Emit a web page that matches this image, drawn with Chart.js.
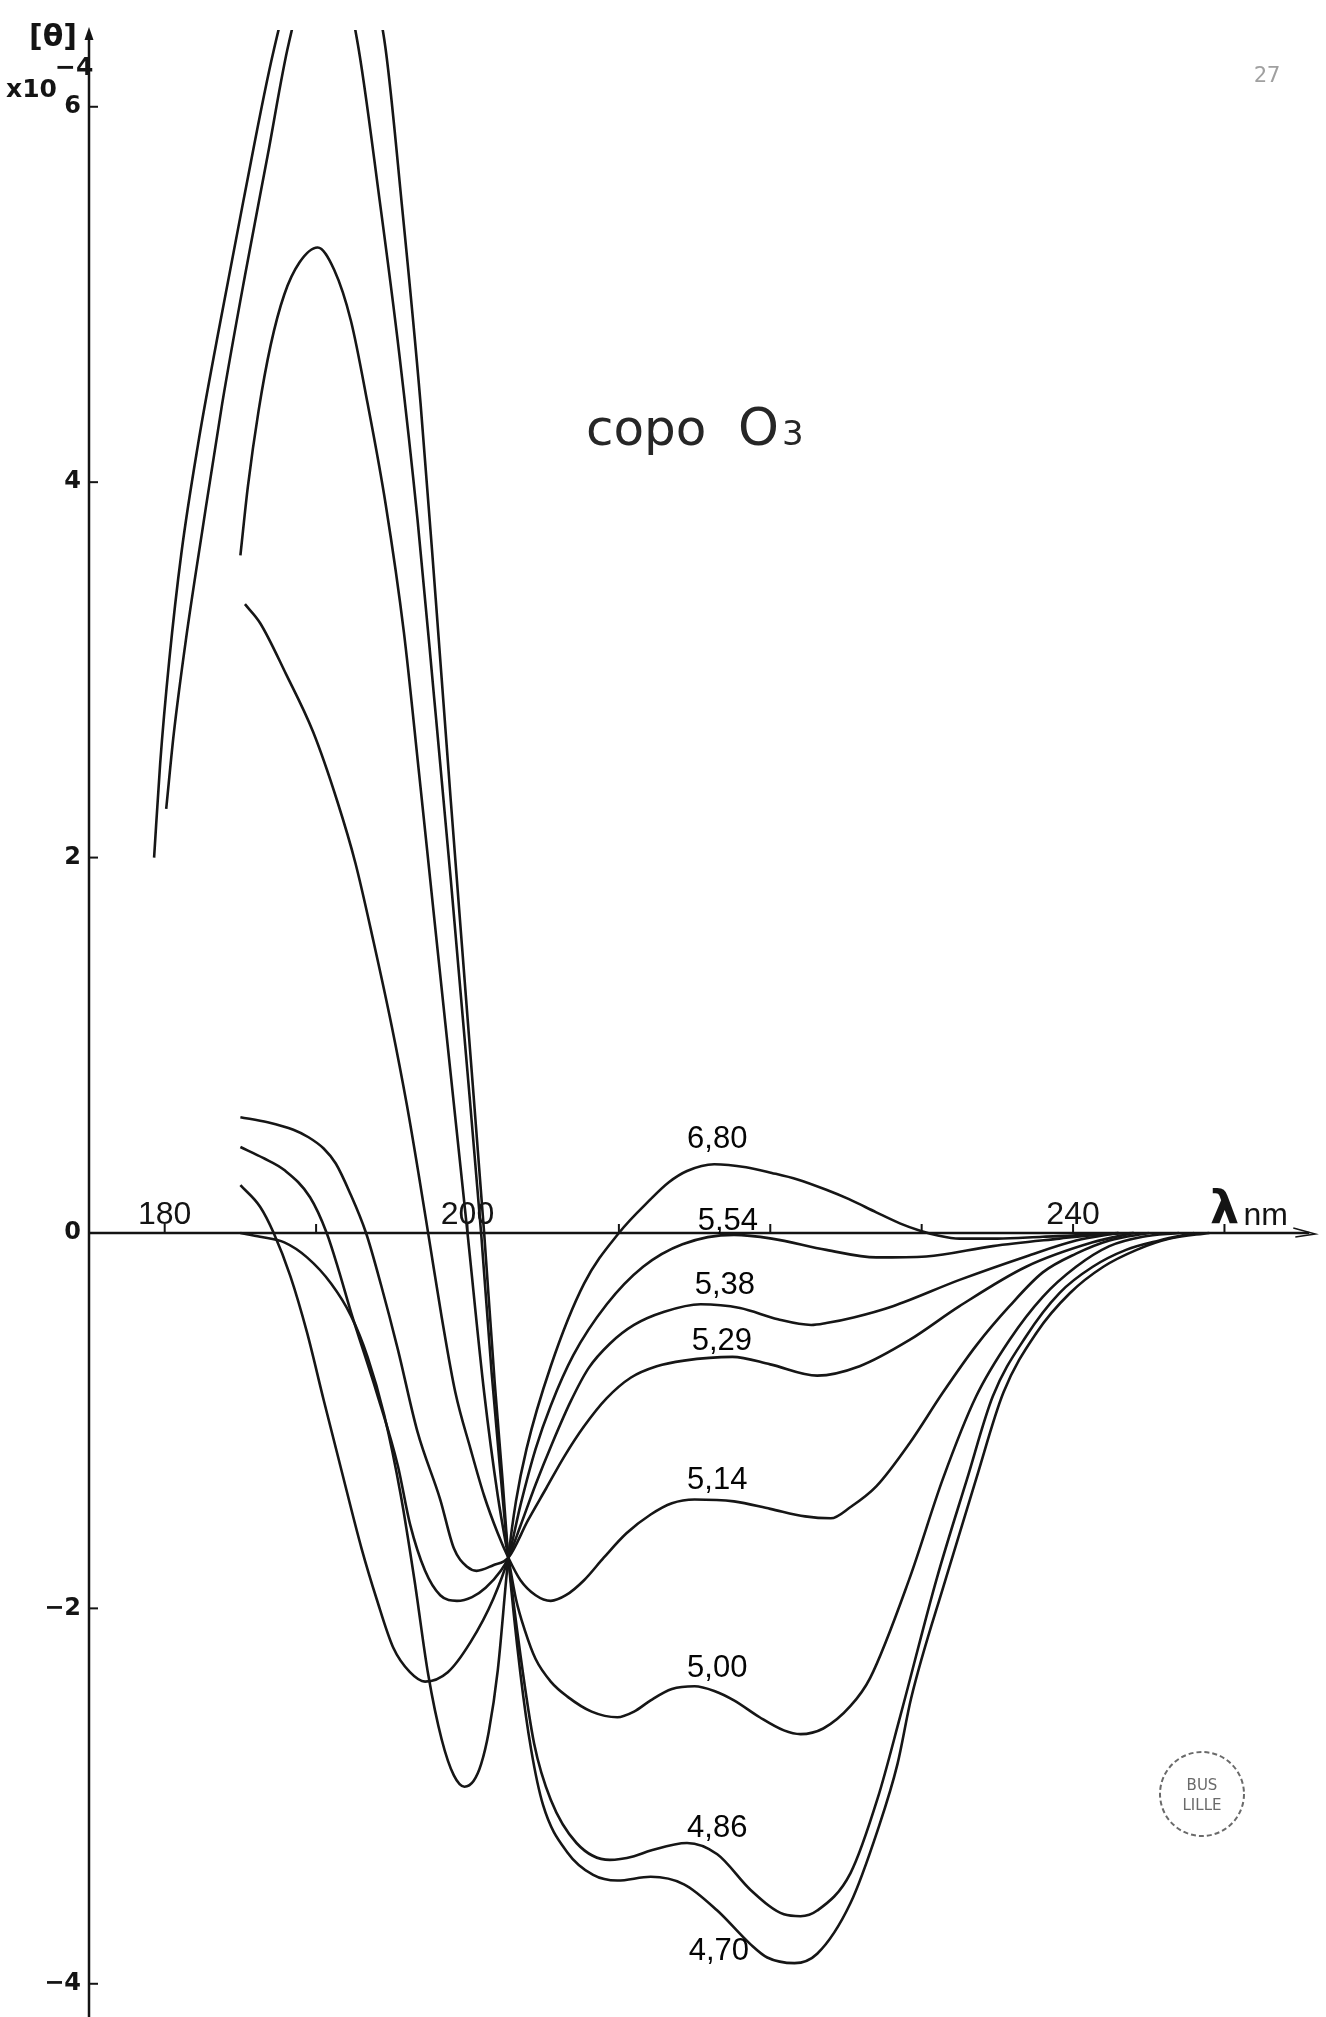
<!DOCTYPE html>
<html>
<head>
<meta charset="utf-8">
<script src="https://cdn.jsdelivr.net/npm/chart.js@4.4.1/dist/chart.umd.min.js"></script>
<style>
  html, body { margin: 0; padding: 0; background: #fff; }
  canvas { display: block; }
</style>
</head>
<body>
<canvas id="cd" width="1326" height="2017"></canvas>
<script>
// [wavelength nm, [theta] x 10^-4], one array per pH
const pH680 = [[185,0],[186.3,-0.02],[187.9,-0.05],[189.4,-0.13],[191.0,-0.27],[192.3,-0.44],[193.4,-0.66],[194.5,-0.97],[195.6,-1.40],[196.5,-1.85],[197.4,-2.35],[198.3,-2.70],[199.1,-2.89],[199.8,-2.95],[200.4,-2.92],[200.9,-2.83],[201.4,-2.66],[202.0,-2.33],[202.7,-1.73],[203.2,-1.43],[203.9,-1.15],[205.5,-0.71],[207.7,-0.27],[210.0,0],[212.1,0.18],[213.3,0.27],[214.5,0.33],[216.3,0.366],[218.4,0.35],[220.1,0.32],[221.8,0.285],[223.7,0.23],[225.2,0.18],[227.0,0.11],[228.6,0.05],[229.9,0.012],[231.0,-0.012],[232.5,-0.03],[235.0,-0.03],[238.0,-0.02],[241.0,-0.01],[243.0,0]];
const pH554 = [[185,0.255],[186.3,0.14],[187.2,0],[188.3,-0.23],[189.4,-0.53],[190.5,-0.89],[191.6,-1.24],[193.0,-1.68],[194.0,-1.95],[195.1,-2.21],[196.2,-2.34],[197.2,-2.39],[198.7,-2.34],[200.2,-2.18],[201.7,-1.95],[202.7,-1.73],[203.5,-1.45],[204.5,-1.15],[205.5,-0.92],[207.0,-0.65],[209.2,-0.38],[211.6,-0.18],[214.2,-0.06],[217.6,-0.01],[220.1,-0.03],[223.7,-0.09],[227.0,-0.13],[230.3,-0.125],[234.7,-0.07],[239.1,-0.03],[241.5,-0.01],[244,0]];
const pH538 = [[185,0.458],[186.5,0.40],[187.9,0.335],[189.6,0.19],[190.7,0],[191.5,-0.2],[192.3,-0.42],[194.0,-0.85],[195.4,-1.24],[196.2,-1.55],[197.2,-1.80],[198.2,-1.93],[199.3,-1.96],[200.3,-1.94],[201.2,-1.89],[202.2,-1.80],[202.7,-1.73],[203.5,-1.56],[204.5,-1.34],[205.6,-1.12],[206.8,-0.90],[208.0,-0.72],[209.4,-0.59],[211.0,-0.49],[213.0,-0.42],[215.4,-0.38],[218.0,-0.40],[220.5,-0.46],[222.7,-0.49],[223.7,-0.48],[225.5,-0.45],[228.1,-0.39],[232.5,-0.25],[236.9,-0.125],[240.2,-0.04],[243,0]];
const pH529 = [[185,0.617],[186.8,0.59],[188.5,0.55],[189.5,0.51],[190.5,0.45],[191.3,0.37],[192.2,0.22],[193.3,0],[194.3,-0.28],[195.4,-0.62],[196.7,-1.06],[198.2,-1.42],[199.1,-1.68],[200.0,-1.78],[200.6,-1.80],[201.7,-1.77],[202.7,-1.73],[204.0,-1.53],[205.2,-1.36],[206.4,-1.19],[207.7,-1.03],[209.2,-0.88],[210.8,-0.77],[212.5,-0.71],[214.3,-0.68],[217.5,-0.66],[220.0,-0.70],[223.1,-0.76],[225.9,-0.71],[229.2,-0.57],[232.5,-0.39],[236.9,-0.18],[241.3,-0.05],[244,0]];
const pH514 = [[185.3,3.35],[186.3,3.25],[188.0,2.98],[189.8,2.67],[191.4,2.30],[192.6,1.97],[193.8,1.55],[195.0,1.10],[196.0,0.68],[196.8,0.30],[197.5,-0.05],[198.3,-0.45],[199.2,-0.85],[200.2,-1.15],[201.1,-1.40],[202.0,-1.60],[202.7,-1.73],[203.5,-1.85],[204.5,-1.93],[205.5,-1.96],[206.5,-1.93],[207.7,-1.85],[209.0,-1.73],[210.5,-1.60],[212.1,-1.50],[213.5,-1.44],[215.0,-1.42],[217.6,-1.43],[220.0,-1.47],[222.3,-1.51],[224.0,-1.52],[225.3,-1.46],[227.0,-1.35],[229.2,-1.12],[231.4,-0.85],[233.6,-0.60],[235.8,-0.39],[238.0,-0.21],[240.2,-0.11],[242.4,-0.04],[245,0]];
const pH500 = [[185.0,3.61],[185.5,3.98],[186.2,4.38],[187.0,4.73],[187.9,5.00],[188.9,5.17],[190.1,5.25],[191.2,5.13],[192.3,4.86],[193.4,4.42],[194.6,3.88],[195.8,3.20],[196.8,2.45],[197.8,1.68],[198.9,0.84],[200.0,0],[201.1,-0.85],[202.0,-1.40],[202.7,-1.73],[203.2,-1.95],[203.8,-2.12],[204.5,-2.27],[205.5,-2.39],[206.6,-2.47],[208.2,-2.55],[209.9,-2.58],[211.0,-2.55],[212.1,-2.49],[213.5,-2.43],[215.0,-2.415],[216.3,-2.44],[217.6,-2.49],[219.3,-2.58],[220.9,-2.65],[222.0,-2.67],[223.5,-2.64],[225.3,-2.52],[226.6,-2.37],[229.2,-1.84],[231.4,-1.31],[233.6,-0.87],[235.8,-0.57],[238.0,-0.34],[240.2,-0.18],[242.4,-0.07],[244.6,-0.02],[247,0]];
const pH486 = [[180.1,2.26],[180.6,2.66],[181.4,3.16],[182.5,3.75],[183.8,4.42],[185.3,5.10],[186.8,5.74],[188.2,6.34],[190.0,6.8],[191.3,6.8],[192.7,6.36],[194.2,5.50],[195.5,4.68],[196.7,3.80],[197.8,2.85],[198.9,1.88],[199.9,0.95],[200.9,0],[201.6,-0.75],[202.2,-1.3],[202.7,-1.73],[203.5,-2.25],[204.4,-2.72],[205.5,-3.02],[207.2,-3.25],[209.4,-3.34],[211.0,-3.32],[212.1,-3.29],[214.5,-3.25],[216.5,-3.31],[218.7,-3.50],[220.9,-3.63],[222.0,-3.64],[223.1,-3.61],[225.3,-3.41],[227.1,-3.01],[228.6,-2.57],[231.0,-1.84],[233.0,-1.31],[234.7,-0.87],[236.9,-0.55],[239.1,-0.32],[241.3,-0.18],[243.5,-0.09],[245.7,-0.04],[248,0]];
const pH470 = [[179.3,2.0],[179.7,2.50],[180.3,3.05],[181.1,3.62],[182.2,4.20],[183.5,4.78],[185.2,5.50],[187.2,6.30],[189.3,6.9],[191.2,7.0],[193.0,6.8],[194.5,6.36],[195.7,5.45],[196.9,4.42],[197.9,3.38],[198.9,2.30],[200.0,1.15],[201.1,0],[201.8,-0.8],[202.3,-1.3],[202.7,-1.73],[203.5,-2.35],[204.2,-2.75],[205.0,-3.05],[206.6,-3.30],[208.3,-3.42],[209.9,-3.45],[212.1,-3.43],[214.3,-3.47],[216.5,-3.61],[218.7,-3.79],[219.8,-3.86],[221.6,-3.89],[223.1,-3.84],[225.3,-3.57],[227.1,-3.18],[228.4,-2.83],[229.3,-2.48],[231.6,-1.84],[233.6,-1.31],[235.4,-0.85],[237.6,-0.53],[239.8,-0.32],[242.0,-0.18],[244.2,-0.09],[246.4,-0.03],[249,0]];

const curveNames = ['6,80', '5,54', '5,38', '5,29', '5,14', '5,00', '4,86', '4,70'];
const curveData = [pH680, pH554, pH538, pH529, pH514, pH500, pH486, pH470];
// where each pH label sits, in data units [nm, value]
const labelAt = [[216.5, 0.50], [217.2, 0.06], [217.0, -0.28], [216.8, -0.58], [216.5, -1.32], [216.5, -2.32], [216.5, -3.17], [216.6, -3.83]];

const xTicks = [180, 190, 200, 210, 220, 230, 240, 250];
const xTickLabels = [180, 200, 240];
const yTicks = [6, 4, 2, 0, -2, -4];

const cdDecor = {
  id: 'cdDecor',
  beforeDatasetsDraw(chart) {
    const { ctx, chartArea } = chart;
    const xs = chart.scales.x;
    const ys = chart.scales.y;
    const ax = chartArea.left;
    const y0 = ys.getPixelForValue(0);
    const xEnd = xs.getPixelForValue(256);

    ctx.save();
    ctx.strokeStyle = '#141414';
    ctx.fillStyle = '#141414';
    ctx.lineWidth = 2.5;

    // vertical axis with arrow
    ctx.beginPath();
    ctx.moveTo(ax, chartArea.bottom);
    ctx.lineTo(ax, chartArea.top + 4);
    ctx.stroke();
    ctx.beginPath();
    ctx.moveTo(ax, chartArea.top - 3);
    ctx.lineTo(ax - 4.5, chartArea.top + 10);
    ctx.lineTo(ax + 4.5, chartArea.top + 10);
    ctx.closePath();
    ctx.fill();

    // horizontal axis at zero with arrow
    ctx.beginPath();
    ctx.moveTo(ax, y0);
    ctx.lineTo(xEnd - 6, y0);
    ctx.stroke();
    ctx.lineWidth = 1.5;
    ctx.beginPath();
    ctx.moveTo(xEnd - 22, y0 - 5);
    ctx.lineTo(xEnd, y0 + 1);
    ctx.lineTo(xEnd - 20, y0 + 4);
    ctx.stroke();

    // small tick marks
    ctx.lineWidth = 2;
    xTicks.forEach(v => {
      const px = xs.getPixelForValue(v);
      ctx.beginPath();
      ctx.moveTo(px, y0);
      ctx.lineTo(px, y0 - 9);
      ctx.stroke();
    });
    yTicks.forEach(v => {
      if (v === 0) return;
      const py = ys.getPixelForValue(v);
      ctx.beginPath();
      ctx.moveTo(ax, py);
      ctx.lineTo(ax + 9, py);
      ctx.stroke();
    });

    // tick labels
    ctx.font = 'bold 24px "DejaVu Sans"';
    ctx.textAlign = 'right';
    ctx.textBaseline = 'middle';
    yTicks.forEach(v => {
      const txt = v < 0 ? '\u2212' + Math.abs(v) : String(v);
      ctx.fillText(txt, ax - 8, ys.getPixelForValue(v));
    });

    ctx.font = '32px "Liberation Sans"';
    ctx.textAlign = 'center';
    ctx.textBaseline = 'alphabetic';
    xTickLabels.forEach(v => {
      ctx.fillText(String(v), xs.getPixelForValue(v), y0 - 9);
    });

    // axis titles
    const lx = xs.getPixelForValue(250);
    ctx.font = 'bold 46px "DejaVu Sans"';
    ctx.fillText('\u03bb', lx, y0 - 10);
    ctx.font = '32px "Liberation Sans"';
    ctx.textAlign = 'left';
    ctx.fillText('nm', lx + 19, y0 - 8);

    ctx.font = 'bold 30px "DejaVu Sans"';
    ctx.textAlign = 'center';
    ctx.fillText('[\u03b8]', 53, 46);
    ctx.font = 'bold 25px "DejaVu Sans"';
    ctx.textAlign = 'left';
    ctx.fillText('x10', 6, 97);
    ctx.fillText('\u22124', 55, 75);
    ctx.restore();
  },
  afterDatasetsDraw(chart) {
    const { ctx } = chart;
    const xs = chart.scales.x;
    const ys = chart.scales.y;
    ctx.save();

    // pH labels on the curves
    ctx.fillStyle = '#050505';
    ctx.font = '31px "Liberation Sans"';
    ctx.textAlign = 'center';
    ctx.textBaseline = 'middle';
    curveNames.forEach((name, i) => {
      const [lxv, lyv] = labelAt[i];
      ctx.fillText(name, xs.getPixelForValue(lxv), ys.getPixelForValue(lyv));
    });

    // sample name
    ctx.fillStyle = '#262626';
    ctx.textAlign = 'left';
    ctx.textBaseline = 'alphabetic';
    ctx.font = '50px "DejaVu Sans"';
    ctx.fillText('copo', 586, 445);
    ctx.font = '52px "DejaVu Sans"';
    ctx.fillText('O', 738, 445);
    ctx.font = '34px "DejaVu Sans"';
    ctx.fillText('3', 782, 445);

    // page number
    ctx.fillStyle = '#a0a0a0';
    ctx.font = '22px "DejaVu Sans Mono"';
    ctx.textAlign = 'center';
    ctx.fillText('27', 1267, 82);

    // library stamp
    ctx.strokeStyle = '#6a6a6a';
    ctx.lineWidth = 2;
    ctx.setLineDash([5, 3]);
    ctx.beginPath();
    ctx.arc(1202, 1794, 42, 0, Math.PI * 2);
    ctx.stroke();
    ctx.setLineDash([]);
    ctx.fillStyle = '#6a6a6a';
    ctx.font = '15px "DejaVu Sans"';
    ctx.fillText('BUS', 1202, 1790);
    ctx.fillText('LILLE', 1202, 1810);
    ctx.restore();
  },
};

new Chart(document.getElementById('cd').getContext('2d'), {
  type: 'line',
  data: {
    datasets: curveData.map((pts, i) => ({
      label: curveNames[i],
      data: pts.map(([x, y]) => ({ x, y })),
      borderColor: '#161616',
      borderWidth: 2.6,
      pointRadius: 0,
      fill: false,
      cubicInterpolationMode: 'monotone',
    })),
  },
  options: {
    responsive: false,
    animation: false,
    devicePixelRatio: 1,
    layout: { padding: { left: 89, top: 30, right: 10.7, bottom: 0 } },
    plugins: { legend: { display: false }, tooltip: { enabled: false } },
    scales: {
      x: { type: 'linear', min: 175, max: 256, display: false },
      y: { type: 'linear', min: -4.177, max: 6.409, display: false },
    },
  },
  plugins: [cdDecor],
});
</script>
</body>
</html>
